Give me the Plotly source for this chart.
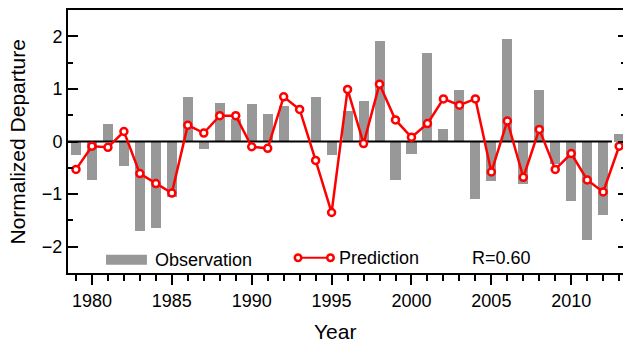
import plotly.graph_objects as go

years = list(range(1979, 2014))
observation = [-0.25, -0.73, 0.34, -0.47, -1.71, -1.64, -1.06, 0.85, -0.14, 0.73, 0.43, 0.72,
               0.53, 0.68, 0.0, 0.85, -0.25, 0.58, 0.77, 1.91, -0.73, -0.23,
               1.69, 0.23, 0.98, -1.09, -0.75, 1.95, -0.80, 0.98, -0.43, -1.13, -1.87, -1.39, 0.15]
prediction = [-0.53, -0.09, -0.11, 0.19, -0.61, -0.80, -0.98, 0.31, 0.16, 0.49, 0.49, -0.10,
              -0.13, 0.85, 0.61, -0.36, -1.35, 0.99, -0.04, 1.09, 0.41, 0.08,
              0.34, 0.81, 0.69, 0.81, -0.58, 0.39, -0.68, 0.23, -0.53, -0.23, -0.73, -0.96, -0.09]
x_ticks = [1980, 1985, 1990, 1995, 2000, 2005, 2010]
y_ticks = [-2, -1, 0, 1, 2]
r_label = "R=0.60"

X_RANGE = [1978.5, 2013.24]
Y_RANGE = [-2.5, 2.5]
ZERO_END = 2012.55
FONT = "Liberation Sans, Arial, Helvetica, sans-serif"
BAR_COLOR = "#989898"
RED = "#ff0000"

fig = go.Figure()
fig.add_trace(go.Bar(x=years, y=observation, width=0.63, marker=dict(color=BAR_COLOR, line=dict(width=0)),
                     name="Observation", showlegend=False))
fig.add_trace(go.Scatter(x=[X_RANGE[0], ZERO_END], y=[0, 0], mode="lines",
                         line=dict(color="black", width=2), showlegend=False, hoverinfo="skip"))
fig.add_trace(go.Scatter(x=years, y=prediction, mode="lines+markers", yaxis="y2",
                         line=dict(color=RED, width=2.5),
                         marker=dict(symbol="circle", size=7, color="white", line=dict(color=RED, width=2.5)),
                         name="Prediction", showlegend=False))

# legend drawing (data-space placement inside the plot)
ly_obs = -2.25
ly_pred = -2.21
shapes = [
    dict(type="rect", xref="x", yref="y", x0=1980.88, x1=1983.44, y0=-2.154, y1=-2.344,
         fillcolor=BAR_COLOR, line=dict(width=0), layer="above"),
    dict(type="line", xref="x", yref="y", x0=1992.9, x1=1994.93, y0=ly_pred, y1=ly_pred,
         line=dict(color=RED, width=2), layer="above"),
]
for xc in (1992.9, 1994.93):
    shapes.append(dict(type="circle", xref="x", yref="y", xsizemode="pixel", ysizemode="pixel",
                       xanchor=xc, yanchor=ly_pred, x0=-3.25, x1=3.25, y0=-3.25, y1=3.25,
                       fillcolor="white", line=dict(color=RED, width=2.5), layer="above"))

annotations = [
    dict(text="Observation", xref="x", yref="y", x=1983.85, y=ly_obs, xanchor="left", yanchor="middle",
         showarrow=False, font=dict(family=FONT, size=18, color="black")),
    dict(text="Prediction", xref="x", yref="y", x=1995.35, y=ly_pred, xanchor="left", yanchor="middle",
         showarrow=False, font=dict(family=FONT, size=18, color="black")),
    dict(text=r_label, xref="x", yref="y", x=2003.65, y=ly_pred, xanchor="left", yanchor="middle",
         showarrow=False, font=dict(family=FONT, size=18, color="black")),
    dict(text="Year", xref="x", yref="paper", x=1995.2, y=-0.224, xanchor="center", yanchor="middle",
         showarrow=False, font=dict(family=FONT, size=21, color="black")),
    dict(text="Normalized Departure", xref="paper", yref="paper", x=-0.0901, y=0.5, textangle=-90,
         xanchor="center", yanchor="middle", showarrow=False, font=dict(family=FONT, size=21, color="black")),
]

fig.update_layout(
    width=623, height=343,
    margin=dict(l=68, r=0, t=10, b=70, pad=0),
    paper_bgcolor="white", plot_bgcolor="white",
    font=dict(family=FONT, size=18, color="black"),
    showlegend=False,
    bargap=0,
    shapes=shapes,
    annotations=annotations,
    xaxis=dict(range=X_RANGE, showline=True, linewidth=2, linecolor="black", mirror=True,
               showgrid=False, zeroline=False,
               tickmode="array", tickvals=x_ticks, ticks="outside", ticklen=10, tickwidth=2,
               tickcolor="black", tickfont=dict(size=18),
               minor=dict(tick0=1980, dtick=1, ticks="outside", ticklen=6, tickwidth=1.5, tickcolor="black")),
    yaxis=dict(range=Y_RANGE, showline=True, linewidth=2, linecolor="black", mirror=False,
               showgrid=False, zeroline=False,
               tickmode="array", tickvals=y_ticks, ticks="inside", ticklen=10, tickwidth=2,
               tickcolor="black", tickfont=dict(size=18),
               minor=dict(dtick=0.5, ticks="inside", ticklen=5, tickwidth=1.5, tickcolor="black")),
    yaxis2=dict(range=Y_RANGE, overlaying="y", side="right", showline=False, showgrid=False,
                zeroline=False, showticklabels=False,
                tickmode="array", tickvals=y_ticks, ticks="inside", ticklen=5, tickwidth=2,
                tickcolor="black",
                minor=dict(dtick=0.5, ticks="inside", ticklen=2, tickwidth=1.5, tickcolor="black")),
)

fig.write_html("out.html")
